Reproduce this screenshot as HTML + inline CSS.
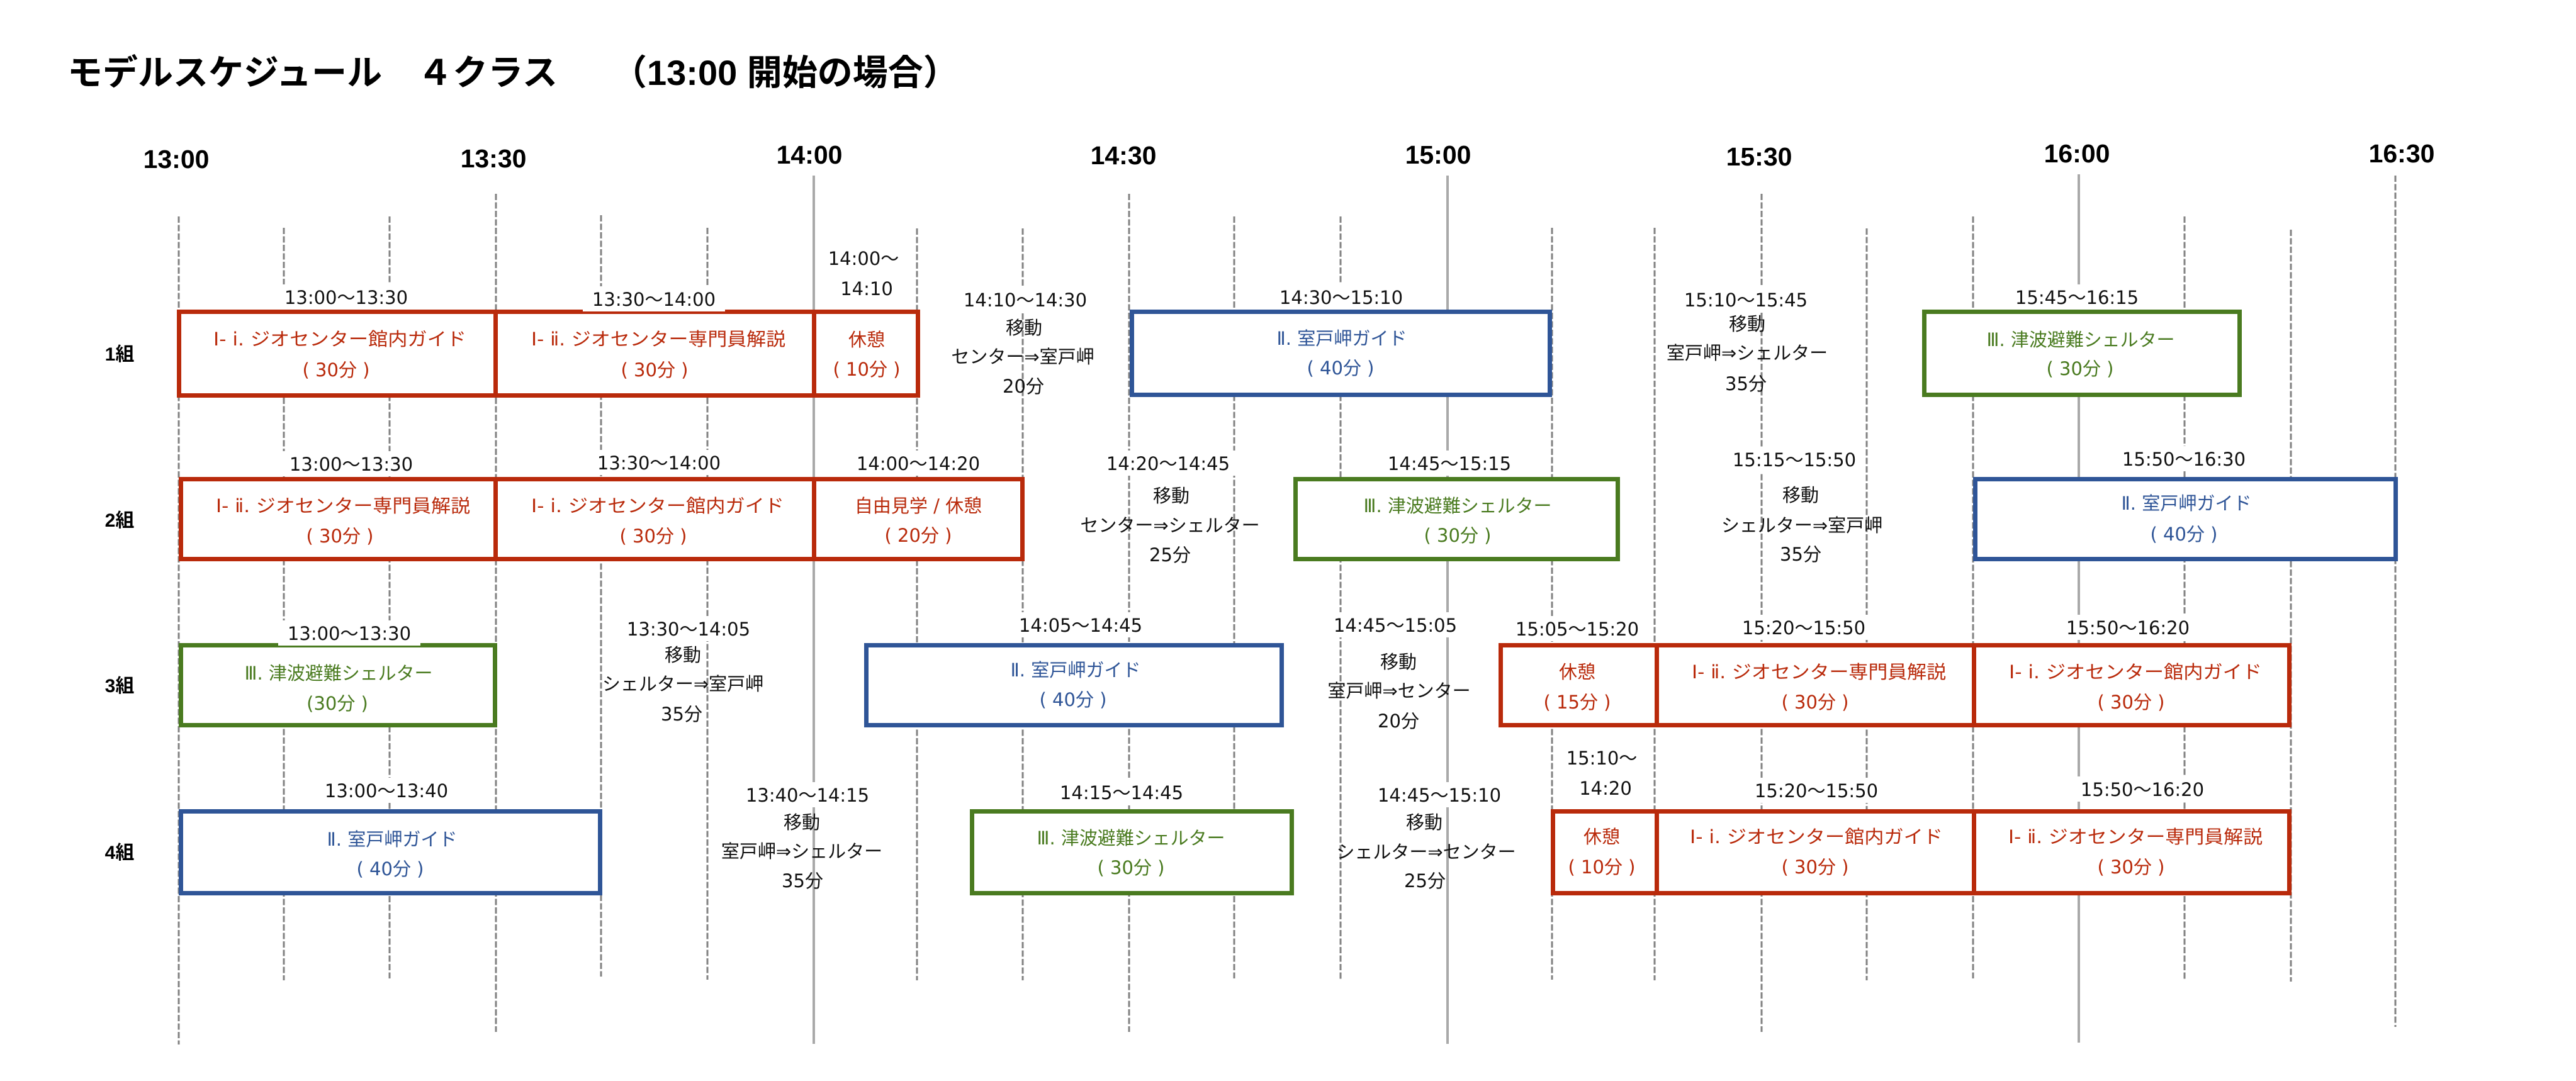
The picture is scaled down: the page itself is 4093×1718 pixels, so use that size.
<!DOCTYPE html>
<html><head><meta charset="utf-8"><style>
html,body{margin:0;padding:0;background:#fff;}
svg{display:block;}
.t{font-family:"DejaVu Sans","Noto Sans CJK JP",sans-serif;font-size:29px;text-anchor:middle;fill:#111;}
.r{fill:#b92a0b}.b{fill:#2f5597}.g{fill:#4a7b20}
.h{font-family:"Liberation Sans","Noto Sans CJK JP",sans-serif;font-weight:700;font-size:41px;text-anchor:middle;fill:#000;}
.rl{font-family:"Liberation Sans","Noto Sans CJK JP",sans-serif;font-weight:700;font-size:30px;text-anchor:middle;fill:#000;}
.ti{font-family:"Liberation Sans","Noto Sans CJK JP",sans-serif;font-weight:700;font-size:56px;fill:#000;}
.d{stroke:#828282;stroke-width:3;stroke-dasharray:10 3.5;fill:none}
.s{stroke:#a9a9a9;stroke-width:4;fill:none}
.br{fill:#fff;stroke:#b92a0b;stroke-width:7}
.bb{fill:#fff;stroke:#2f5597;stroke-width:7}
.bg{fill:#fff;stroke:#4a7b20;stroke-width:7}
.w{fill:#fff}
</style></head><body>
<svg width="4093" height="1718" viewBox="0 0 4093 1718" xmlns="http://www.w3.org/2000/svg">
<rect x="0" y="0" width="4093" height="1718" fill="#fff"/>
<!-- title -->
<text class="ti" x="107" y="135">モデルスケジュール　４クラス</text>
<text class="ti" x="972" y="135">（13:00 開始の場合）</text>
<!-- header -->
<text class="h" x="280" y="267">13:00</text>
<text class="h" x="784" y="266">13:30</text>
<text class="h" x="1286" y="260">14:00</text>
<text class="h" x="1785" y="261">14:30</text>
<text class="h" x="2285" y="260">15:00</text>
<text class="h" x="2795" y="263">15:30</text>
<text class="h" x="3300" y="258">16:00</text>
<text class="h" x="3816" y="258">16:30</text>
<!-- grid lines -->
<line class="d" x1="284" y1="344" x2="284" y2="1660"/>
<line class="d" x1="451" y1="362" x2="451" y2="1558"/>
<line class="d" x1="619" y1="344" x2="619" y2="1555"/>
<line class="d" x1="788" y1="308" x2="788" y2="1640"/>
<line class="d" x1="955" y1="342" x2="955" y2="1552"/>
<line class="d" x1="1124" y1="362" x2="1124" y2="1557"/>
<line class="s" x1="1293" y1="279" x2="1293" y2="1659"/>
<line class="d" x1="1457" y1="363" x2="1457" y2="1558"/>
<line class="d" x1="1625" y1="363" x2="1625" y2="1558"/>
<line class="d" x1="1794" y1="308" x2="1794" y2="1640"/>
<line class="d" x1="1961" y1="344" x2="1961" y2="1555"/>
<line class="d" x1="2130" y1="344" x2="2130" y2="1556"/>
<line class="s" x1="2300" y1="279" x2="2300" y2="1659"/>
<line class="d" x1="2466" y1="362" x2="2466" y2="1557"/>
<line class="d" x1="2629" y1="362" x2="2629" y2="1558"/>
<line class="d" x1="2799" y1="308" x2="2799" y2="1640"/>
<line class="d" x1="2966" y1="363" x2="2966" y2="1558"/>
<line class="d" x1="3135" y1="344" x2="3135" y2="1555"/>
<line class="s" x1="3303" y1="277" x2="3303" y2="1657"/>
<line class="d" x1="3471" y1="344" x2="3471" y2="1556"/>
<line class="d" x1="3640" y1="365" x2="3640" y2="1560"/>
<line class="d" x1="3806" y1="279" x2="3806" y2="1632"/>
<!-- boxes row1 -->
<rect class="br" x="284.5" y="495.5" width="503" height="133"/>
<rect class="br" x="787.5" y="495.5" width="506" height="133"/>
<rect class="br" x="1293.5" y="495.5" width="165" height="133"/>
<rect class="bb" x="1798.5" y="495.5" width="664" height="132"/>
<rect class="bg" x="3057.5" y="495.5" width="501" height="132"/>
<!-- row2 -->
<rect class="br" x="287.5" y="761.5" width="500" height="127"/>
<rect class="br" x="787.5" y="761.5" width="506" height="127"/>
<rect class="br" x="1293.5" y="761.5" width="331" height="127"/>
<rect class="bg" x="2058.5" y="761.5" width="512" height="127"/>
<rect class="bb" x="3138.5" y="761.5" width="668" height="127"/>
<!-- row3 -->
<rect class="bg" x="287.5" y="1025.5" width="499" height="127"/>
<rect class="bb" x="1376.5" y="1025.5" width="660" height="127"/>
<rect class="br" x="2384.5" y="1025.5" width="248" height="127"/>
<rect class="br" x="2632.5" y="1025.5" width="504" height="127"/>
<rect class="br" x="3136.5" y="1025.5" width="501" height="127"/>
<!-- row4 -->
<rect class="bb" x="287.5" y="1289.5" width="666" height="130"/>
<rect class="bg" x="1544.5" y="1289.5" width="508" height="130"/>
<rect class="br" x="2467.5" y="1289.5" width="165" height="130"/>
<rect class="br" x="2632.5" y="1289.5" width="504" height="130"/>
<rect class="br" x="3136.5" y="1289.5" width="501" height="130"/>
<!-- label backgrounds -->
<rect class="w" x="437" y="452" width="226" height="40"/>
<rect class="w" x="926" y="455" width="226" height="40"/>
<rect class="w" x="1516" y="456" width="226" height="40"/>
<rect class="w" x="2018" y="452" width="226" height="40"/>
<rect class="w" x="2661" y="456" width="226" height="40"/>
<rect class="w" x="3187" y="452" width="226" height="40"/>
<rect class="w" x="445" y="717" width="226" height="40"/>
<rect class="w" x="934" y="715" width="226" height="40"/>
<rect class="w" x="1346" y="716" width="226" height="40"/>
<rect class="w" x="1743" y="716" width="226" height="40"/>
<rect class="w" x="2190" y="716" width="226" height="40"/>
<rect class="w" x="2738" y="710" width="226" height="40"/>
<rect class="w" x="3357" y="709" width="226" height="40"/>
<rect class="w" x="442" y="986" width="226" height="40"/>
<rect class="w" x="961" y="979" width="246" height="40"/>
<rect class="w" x="1604" y="973" width="226" height="40"/>
<rect class="w" x="2104" y="973" width="226" height="40"/>
<rect class="w" x="2393" y="979" width="226" height="40"/>
<rect class="w" x="2753" y="977" width="226" height="40"/>
<rect class="w" x="3268" y="977" width="226" height="40"/>
<rect class="w" x="501" y="1236" width="226" height="40"/>
<rect class="w" x="1170" y="1243" width="226" height="40"/>
<rect class="w" x="1669" y="1239" width="226" height="40"/>
<rect class="w" x="2174" y="1243" width="226" height="40"/>
<rect class="w" x="2773" y="1236" width="226" height="40"/>
<rect class="w" x="3291" y="1234" width="226" height="40"/>
<!-- row labels -->
<text class="rl" x="190" y="573">1組</text>
<text class="rl" x="190" y="837">2組</text>
<text class="rl" x="190" y="1100">3組</text>
<text class="rl" x="190" y="1365">4組</text>
<!-- ROW 1 -->
<text class="t" x="550" y="483">13:00～13:30</text>
<text class="t r" x="540" y="549" textLength="402" lengthAdjust="spacingAndGlyphs">Ⅰ- ⅰ. ジオセンター館内ガイド</text>
<text class="t r" x="534" y="598">( 30分 )</text>
<text class="t" x="1039" y="486">13:30～14:00</text>
<text class="t r" x="1046" y="549" textLength="404" lengthAdjust="spacingAndGlyphs">Ⅰ- ⅱ. ジオセンター専門員解説</text>
<text class="t r" x="1040" y="598">( 30分 )</text>
<text class="t" x="1372" y="421">14:00～</text>
<text class="t" x="1377" y="469">14:10</text>
<text class="t r" x="1377" y="550">休憩</text>
<text class="t r" x="1377" y="597">( 10分 )</text>
<text class="t" x="1629" y="487">14:10～14:30</text>
<text class="t" x="1627" y="531">移動</text>
<text class="t" x="1625" y="577">センター⇒室戸岬</text>
<text class="t" x="1626" y="624">20分</text>
<text class="t" x="2131" y="483">14:30～15:10</text>
<text class="t b" x="2132" y="548" textLength="207" lengthAdjust="spacingAndGlyphs">Ⅱ. 室戸岬ガイド</text>
<text class="t b" x="2130" y="595">( 40分 )</text>
<text class="t" x="2774" y="487">15:10～15:45</text>
<text class="t" x="2776" y="525">移動</text>
<text class="t" x="2776" y="571">室戸岬⇒シェルター</text>
<text class="t" x="2774" y="620">35分</text>
<text class="t" x="3300" y="483">15:45～16:15</text>
<text class="t g" x="3306" y="550" textLength="299" lengthAdjust="spacingAndGlyphs">Ⅲ. 津波避難シェルター</text>
<text class="t g" x="3305" y="596">( 30分 )</text>
<!-- ROW 2 -->
<text class="t" x="558" y="748">13:00～13:30</text>
<text class="t r" x="545" y="814" textLength="404" lengthAdjust="spacingAndGlyphs">Ⅰ- ⅱ. ジオセンター専門員解説</text>
<text class="t r" x="540" y="862">( 30分 )</text>
<text class="t" x="1047" y="746">13:30～14:00</text>
<text class="t r" x="1045" y="814" textLength="402" lengthAdjust="spacingAndGlyphs">Ⅰ- ⅰ. ジオセンター館内ガイド</text>
<text class="t r" x="1038" y="862">( 30分 )</text>
<text class="t" x="1459" y="747">14:00～14:20</text>
<text class="t r" x="1459" y="814">自由見学 / 休憩</text>
<text class="t r" x="1459" y="861">( 20分 )</text>
<text class="t" x="1856" y="747">14:20～14:45</text>
<text class="t" x="1861" y="798">移動</text>
<text class="t" x="1859" y="845">センター⇒シェルター</text>
<text class="t" x="1859" y="892">25分</text>
<text class="t" x="2303" y="747">14:45～15:15</text>
<text class="t g" x="2316" y="814" textLength="299" lengthAdjust="spacingAndGlyphs">Ⅲ. 津波避難シェルター</text>
<text class="t g" x="2316" y="861">( 30分 )</text>
<text class="t" x="2851" y="741">15:15～15:50</text>
<text class="t" x="2861" y="797">移動</text>
<text class="t" x="2863" y="845">シェルター⇒室戸岬</text>
<text class="t" x="2861" y="891">35分</text>
<text class="t" x="3470" y="740">15:50～16:30</text>
<text class="t b" x="3474" y="810" textLength="207" lengthAdjust="spacingAndGlyphs">Ⅱ. 室戸岬ガイド</text>
<text class="t b" x="3470" y="859">( 40分 )</text>
<!-- ROW 3 -->
<text class="t" x="555" y="1017">13:00～13:30</text>
<text class="t g" x="538" y="1080" textLength="299" lengthAdjust="spacingAndGlyphs">Ⅲ. 津波避難シェルター</text>
<text class="t g" x="536" y="1128">(30分 )</text>
<text class="t" x="1094" y="1010">13:30～14:05</text>
<text class="t" x="1085" y="1051">移動</text>
<text class="t" x="1085" y="1097">シェルター⇒室戸岬</text>
<text class="t" x="1083" y="1145">35分</text>
<text class="t" x="1717" y="1004">14:05～14:45</text>
<text class="t b" x="1709" y="1075" textLength="207" lengthAdjust="spacingAndGlyphs">Ⅱ. 室戸岬ガイド</text>
<text class="t b" x="1705" y="1122">( 40分 )</text>
<text class="t" x="2217" y="1004">14:45～15:05</text>
<text class="t" x="2222" y="1062">移動</text>
<text class="t" x="2223" y="1108">室戸岬⇒センター</text>
<text class="t" x="2222" y="1156">20分</text>
<text class="t" x="2506" y="1010">15:05～15:20</text>
<text class="t r" x="2506" y="1078">休憩</text>
<text class="t r" x="2506" y="1126">( 15分 )</text>
<text class="t" x="2866" y="1008">15:20～15:50</text>
<text class="t r" x="2890" y="1078" textLength="404" lengthAdjust="spacingAndGlyphs">Ⅰ- ⅱ. ジオセンター専門員解説</text>
<text class="t r" x="2884" y="1126">( 30分 )</text>
<text class="t" x="3381" y="1008">15:50～16:20</text>
<text class="t r" x="3393" y="1078" textLength="402" lengthAdjust="spacingAndGlyphs">Ⅰ- ⅰ. ジオセンター館内ガイド</text>
<text class="t r" x="3386" y="1126">( 30分 )</text>
<!-- ROW 4 -->
<text class="t" x="614" y="1267">13:00～13:40</text>
<text class="t b" x="623" y="1344" textLength="207" lengthAdjust="spacingAndGlyphs">Ⅱ. 室戸岬ガイド</text>
<text class="t b" x="620" y="1391">( 40分 )</text>
<text class="t" x="1283" y="1274">13:40～14:15</text>
<text class="t" x="1274" y="1317">移動</text>
<text class="t" x="1274" y="1363">室戸岬⇒シェルター</text>
<text class="t" x="1275" y="1410">35分</text>
<text class="t" x="1782" y="1270">14:15～14:45</text>
<text class="t g" x="1797" y="1342" textLength="299" lengthAdjust="spacingAndGlyphs">Ⅲ. 津波避難シェルター</text>
<text class="t g" x="1797" y="1389">( 30分 )</text>
<text class="t" x="2287" y="1274">14:45～15:10</text>
<text class="t" x="2263" y="1317">移動</text>
<text class="t" x="2266" y="1364">シェルター⇒センター</text>
<text class="t" x="2264" y="1410">25分</text>
<text class="t" x="2545" y="1215">15:10～</text>
<text class="t" x="2551" y="1263">14:20</text>
<text class="t r" x="2545" y="1340">休憩</text>
<text class="t r" x="2545" y="1388">( 10分 )</text>
<text class="t" x="2886" y="1267">15:20～15:50</text>
<text class="t r" x="2886" y="1340" textLength="402" lengthAdjust="spacingAndGlyphs">Ⅰ- ⅰ. ジオセンター館内ガイド</text>
<text class="t r" x="2884" y="1388">( 30分 )</text>
<text class="t" x="3404" y="1265">15:50～16:20</text>
<text class="t r" x="3393" y="1340" textLength="404" lengthAdjust="spacingAndGlyphs">Ⅰ- ⅱ. ジオセンター専門員解説</text>
<text class="t r" x="3386" y="1388">( 30分 )</text>
</svg>
</body></html>
